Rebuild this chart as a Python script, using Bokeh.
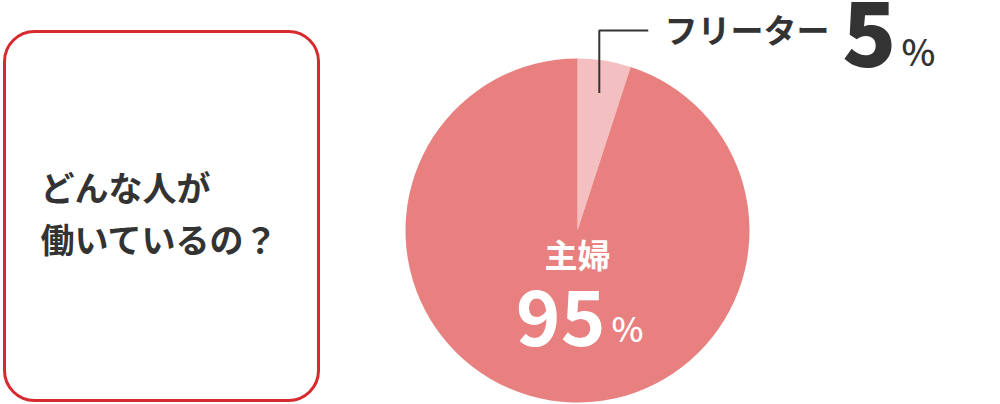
import numpy as np
from bokeh.plotting import figure
from bokeh.models import Range1d
from bokeh.core.properties import value
from bokeh.embed import file_html
from bokeh.resources import INLINE

# data
labels = ["フリーター", "主婦"]
shares = [5, 95]
colors = ["#f4bfc0", "#e88080"]
question = ["どんな人が", "働いているの？"]

FONT = value("Noto Sans CJK JP")
HEAVY = value("Noto Sans CJK JP Black")
MEDIUM = value("Noto Sans CJK JP Medium")
W, H = 1000, 404

p = figure(width=W, height=H, x_range=Range1d(0, W), y_range=Range1d(0, H),
           output_backend="svg", toolbar_location=None, min_border=0)
p.axis.visible = False
p.grid.visible = False
p.outline_line_color = None
p.background_fill_color = "white"


def py(y):
    # picture pixel row -> data y
    return H - y


# rounded box with the question
p.quad(left=4, right=318, bottom=py(400), top=py(31), fill_color="white",
       line_color="#d8292f", line_width=3, border_radius=30)
p.text(x=[40, 40], y=[py(186), py(238)], text=question, text_font=FONT,
       text_font_style="bold", text_font_size="34px", text_color="#333333",
       text_baseline="alphabetic")

# pie, clockwise from 12 o'clock
cx, cy, r = 577, py(230), 172
frac = np.array(shares) / sum(shares)
cum = np.concatenate([[0], np.cumsum(frac)])
start = np.pi / 2 - cum[1:] * 2 * np.pi
end = np.pi / 2 - cum[:-1] * 2 * np.pi
p.wedge(x=cx, y=cy, radius=r, start_angle=start, end_angle=end,
        fill_color=colors, line_color=None)

# leader for the small slice
mid = (start[0] + end[0]) / 2
lx = cx + 0.81 * r * np.cos(mid)
ly = cy + 0.81 * r * np.sin(mid)
p.line(x=[lx, lx, lx + 49], y=[ly, py(30), py(30)], line_color="#333333", line_width=2)

p.text(x=[664], y=[py(28)], text=[labels[0]], text_font=FONT, text_font_style="bold",
       text_font_size="33px", text_color="#333333", text_baseline="alphabetic")
p.text(x=[896], y=[py(33)], text=[str(shares[0])], text_font=HEAVY,
       text_font_size="89px", text_color="#333333", text_baseline="alphabetic",
       text_align="right")
p.text(x=[901], y=[py(49)], text=["%"], text_font=MEDIUM,
       text_font_size="36px", text_color="#333333", text_baseline="alphabetic")

# label inside the big slice
p.text(x=[cx], y=[py(253)], text=[labels[1]], text_font=FONT, text_font_style="bold",
       text_font_size="33px", text_color="white", text_baseline="alphabetic",
       text_align="center")
p.text(x=[605], y=[py(317)], text=[str(shares[1])], text_font=FONT, text_font_style="bold",
       text_font_size="76px", text_color="white", text_baseline="alphabetic",
       text_align="right")
p.text(x=[611], y=[py(327)], text=["%"], text_font=MEDIUM,
       text_font_size="34px", text_color="white", text_baseline="alphabetic")

open("out.html", "w").write(file_html(p, INLINE))
